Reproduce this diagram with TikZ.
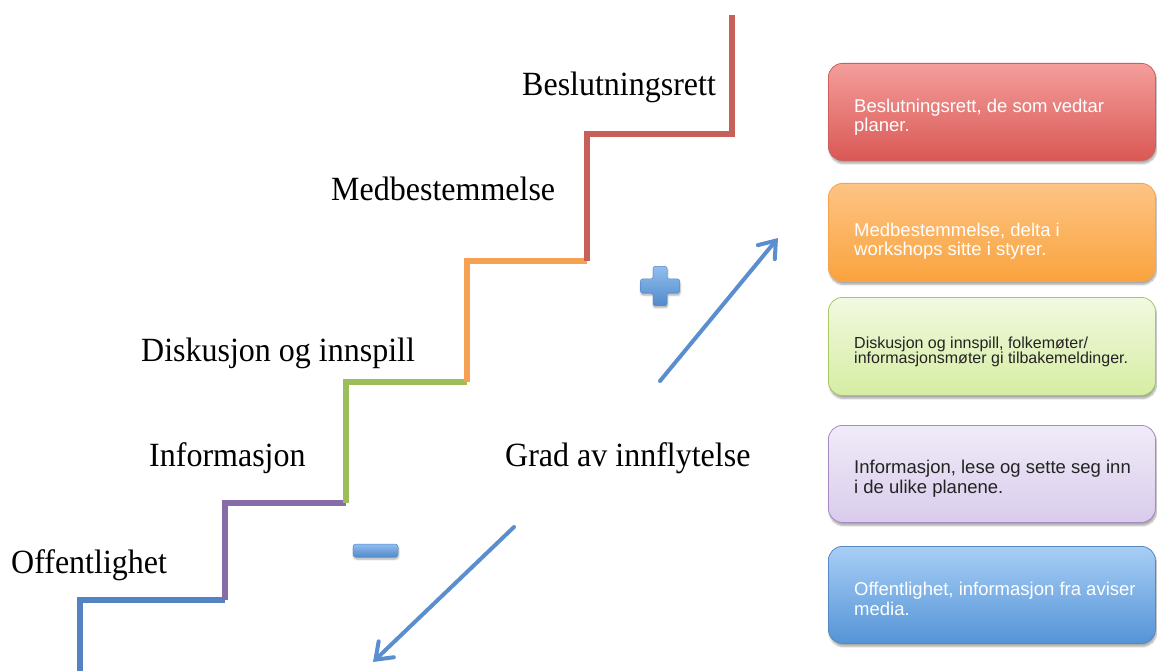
\documentclass[tikz,border=0pt]{standalone}
\usepackage{fontspec}
\setmainfont{Liberation Serif}
\newfontfamily\cardfont{Liberation Sans}
\usetikzlibrary{arrows.meta,shadows.blur}

% staircase colours
\definecolor{stepblue}{RGB}{84,131,194}
\definecolor{steppurple}{RGB}{136,108,168}
\definecolor{stepgreen}{RGB}{155,190,90}
\definecolor{steporange}{RGB}{246,160,82}
\definecolor{stepred}{RGB}{200,96,90}
% arrow and sign colours
\definecolor{arrowblue}{RGB}{90,142,206}
\definecolor{signtop}{RGB}{145,190,238}
\definecolor{signbot}{RGB}{82,138,204}
% card gradients
\definecolor{redtop}{RGB}{244,158,156}
\definecolor{redbot}{RGB}{218,88,84}
\definecolor{redrim}{RGB}{205,95,92}
\definecolor{orangetop}{RGB}{253,196,132}
\definecolor{orangebot}{RGB}{250,163,62}
\definecolor{orangerim}{RGB}{245,165,80}
\definecolor{greentop}{RGB}{242,249,224}
\definecolor{greenbot}{RGB}{214,237,163}
\definecolor{greenrim}{RGB}{168,200,100}
\definecolor{purpletop}{RGB}{240,235,248}
\definecolor{purplebot}{RGB}{217,204,236}
\definecolor{purplerim}{RGB}{165,138,195}
\definecolor{bluetop}{RGB}{168,206,246}
\definecolor{bluebot}{RGB}{84,148,214}
\definecolor{bluerim}{RGB}{86,136,196}
\definecolor{cardink}{RGB}{35,35,35}

\begin{document}
\begin{tikzpicture}[x=1pt,y=-1pt,
  stairline/.style={draw=#1, line width=5.6pt, line cap=butt, line join=miter},
  steplabel/.style={font=\fontsize{32}{38}\selectfont, anchor=base west, inner sep=0pt, yscale=1.06},
  cardbox/.style n args={3}{top color=#1, bottom color=#2, draw=#3, line width=0.8pt,
    rounded corners=14pt, anchor=north west, inner sep=0pt, minimum width=327pt,
    blur shadow={shadow xshift=1pt, shadow yshift=-3pt, shadow opacity=35, shadow blur steps=6}},
  cardtext/.style={anchor=base west, inner sep=0pt, font=\cardfont},
  growarrow/.style={draw=arrowblue, line width=4pt, line cap=round,
    -{Straight Barb[length=15pt, width=22pt, line cap=round]}},
  sign/.style={top color=signtop, bottom color=signbot, draw=signbot, line width=0.5pt,
    blur shadow={shadow xshift=0.5pt, shadow yshift=-2pt, shadow opacity=35, shadow blur steps=4}}]

\useasboundingbox (0,0) rectangle (1157,671);

% the staircase, one coloured step per level
\draw[stairline=stepblue]   (80,671) -- (80,600) -- (225,600);
\draw[stairline=steppurple] (225,600) -- (225,503) -- (346,503);
\draw[stairline=stepgreen]  (346,503) -- (346,382) -- (467,382);
\draw[stairline=steporange] (467,382) -- (467,261) -- (587,261);
\draw[stairline=stepred]    (587,261) -- (587,134) -- (732,134) -- (732,15);

% step names
\node[steplabel] (lbeslut) at (522,96)  {Beslutningsrett};
\node[steplabel] (lmedbes) at (331,201) {Medbestemmelse};
\node[steplabel] (ldisk)   at (141,361) {Diskusjon og innspill};
\node[steplabel] (linfo)   at (149,466) {Informasjon};
\node[steplabel] (loffent) at (11,573)  {Offentlighet};
\node[steplabel] (lgrad)   at (505,466) {Grad av innflytelse};

% plus and minus signs
\path[sign, rounded corners=2pt] (653,266.5) -- (667,266.5) -- (667,279) -- (679.5,279)
  -- (679.5,293) -- (667,293) -- (667,305.5) -- (653,305.5) -- (653,293) -- (640.5,293)
  -- (640.5,279) -- (653,279) -- cycle;
\path[sign, rounded corners=3pt] (353,544) rectangle (398,557);

% direction arrows
\coordinate (upfrom) at (660,381);
\coordinate (upto)   at (778,238);
\coordinate (dnfrom) at (514,527);
\coordinate (dnto)   at (373,662);
\draw[growarrow] (upfrom) -- (upto);
\draw[growarrow] (dnfrom) -- (dnto);

% description cards
\node[cardbox={redtop}{redbot}{redrim},       minimum height=97pt] (cred)    at (828,63)  {};
\node[cardbox={orangetop}{orangebot}{orangerim}, minimum height=98pt] (corange) at (828,183) {};
\node[cardbox={greentop}{greenbot}{greenrim},   minimum height=98pt] (cgreen)  at (828,297) {};
\node[cardbox={purpletop}{purplebot}{purplerim}, minimum height=97pt] (cpurple) at (828,425) {};
\node[cardbox={bluetop}{bluebot}{bluerim},     minimum height=97pt] (cblue)   at (828,546) {};

\node[cardtext, text=white] (tred) at (854,113)
  {\parbox[t]{300pt}{\fontsize{18.5}{19}\selectfont Beslutningsrett, de som vedtar\\planer.}};
\node[cardtext, text=white] (torange) at (854,237)
  {\parbox[t]{300pt}{\fontsize{18.5}{18.5}\selectfont Medbestemmelse, delta i\\workshops sitte i styrer.}};
\node[cardtext, text=cardink] (tgreen) at (854,348)
  {\parbox[t]{300pt}{\fontsize{16}{15}\selectfont Diskusjon og innspill, folkemøter/\\informasjonsmøter gi tilbakemeldinger.}};
\node[cardtext, text=cardink] (tpurple) at (854,473)
  {\parbox[t]{300pt}{\fontsize{18.5}{20.5}\selectfont Informasjon, lese og sette seg inn\\i de ulike planene.}};
\node[cardtext, text=white] (tblue) at (854,595)
  {\parbox[t]{300pt}{\fontsize{18.5}{20}\selectfont Offentlighet, informasjon fra aviser\\media.}};

\end{tikzpicture}
\end{document}
